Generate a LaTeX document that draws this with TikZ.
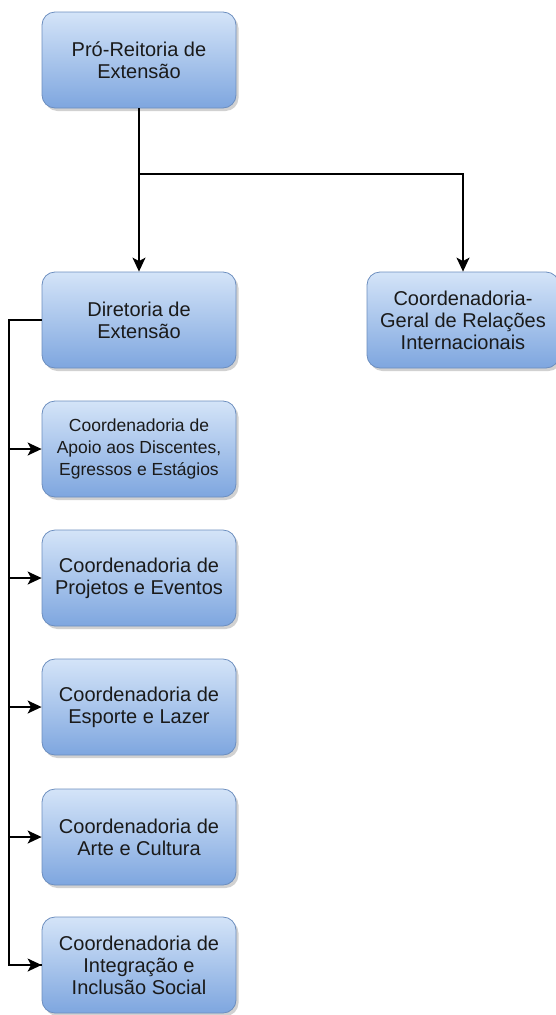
\documentclass[tikz,border=0pt]{standalone}
\usepackage{fontspec}
\setmainfont{Liberation Sans}
\usepackage{xcolor}
\usetikzlibrary{arrows.meta,shadows}
\definecolor{boxtop}{HTML}{D4E4F8}
\definecolor{boxbot}{HTML}{7EA6DF}
\definecolor{boxline}{HTML}{6C8EBF}
\definecolor{boxtext}{HTML}{1A1A1A}
\tikzset{
  unit/.style={draw=boxline, line width=0.8pt, rounded corners=13pt,
    top color=boxtop, bottom color=boxbot, text=boxtext,
    minimum width=194pt, minimum height=96pt, align=center, inner sep=2pt,
    font=\fontsize{20}{22}\selectfont,
    drop shadow={shadow xshift=2.5pt, shadow yshift=-3pt, fill=black!40, opacity=0.45}},
  link/.style={line width=1.5pt, -{Stealth[length=14pt,width=13pt,inset=3.5pt]}},
  bus/.style={line width=1.5pt}
}
\begin{document}
\begin{tikzpicture}[x=1pt,y=-1pt]
\useasboundingbox (0,0) rectangle (555,1015);
\node[unit] (pro) at (139,60) {Pró-Reitoria de\\Extensão};
\node[unit] (dir) at (139,320) {Diretoria de\\Extensão};
\node[unit, minimum width=192pt] (cgri) at (463,320) {Coordenadoria-\\Geral de Relações\\Internacionais};

\node[unit, font=\fontsize{17.5}{22}\selectfont] (apoio) at (139,449) {Coordenadoria de\\Apoio aos Discentes,\\Egressos e Estágios};
\node[unit] (proj) at (139,578) {Coordenadoria de\\Projetos e Eventos};
\node[unit] (esp) at (139,707) {Coordenadoria de\\Esporte e Lazer};
\node[unit] (arte) at (139,837) {Coordenadoria de\\Arte e Cultura};
\node[unit] (incl) at (139,965) {Coordenadoria de\\Integração e\\Inclusão Social};

% top level
\coordinate (split) at (139,174);
\coordinate (bus) at (9,320);
\draw[link] (pro.south) -- (dir.north);
\draw[link] (split) -| (cgri.north);

% coordenadorias
\draw[bus] (dir.west) -- (bus) |- (incl.west);
\foreach \c in {apoio,proj,esp,arte,incl}
  \draw[link] (bus |- \c.west) -- (\c.west);
\end{tikzpicture}
\end{document}
